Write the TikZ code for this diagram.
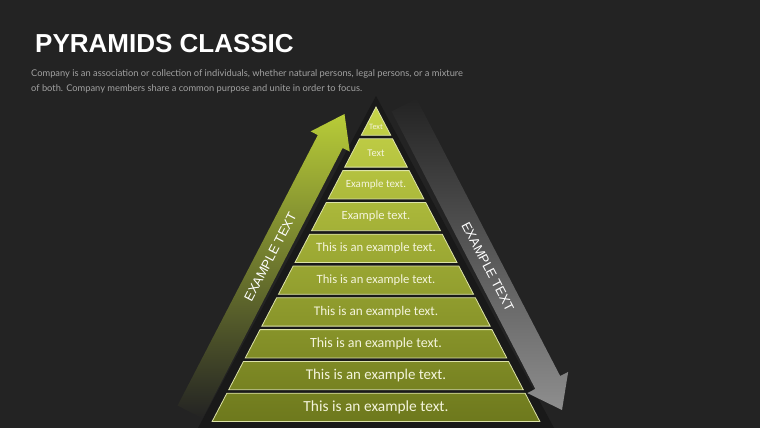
\documentclass[tikz,border=0pt]{standalone}
\usepackage{fontspec}
\setmainfont{Carlito}
\newfontfamily\headfont{Liberation Sans}
\newfontfamily\leadfont{Lato}
\usetikzlibrary{arrows.meta,positioning,calc}

\definecolor{bgdark}{HTML}{232323}
\definecolor{pyrshadow}{HTML}{191919}
\definecolor{pyrlight}{HTML}{C6D448}
\definecolor{pyrdark}{HTML}{6C771C}
\definecolor{pyredge}{HTML}{DDE3A8}
\definecolor{bandtext}{HTML}{F4F4DC}
\definecolor{upgreen}{HTML}{B8CC38}
\definecolor{downgray}{HTML}{8E8E8E}
\definecolor{leadgray}{HTML}{A2A2A2}

\begin{document}
\begin{tikzpicture}[x=1pt,y=-1pt,
    band/.style={draw=pyredge, line width=0.8pt},
    bandlabel/.style={text=bandtext, inner sep=0pt},
    arrowlabel/.style={text=white, inner sep=0pt,
      font=\headfont\fontsize{13}{13}\selectfont}]
  \fill[bgdark] (0,0) rectangle (760,428);
  \useasboundingbox (0,0) rectangle (760,428);

  % heading
  \node[anchor=base west, inner sep=0pt, text=white,
        font=\headfont\bfseries\fontsize{26}{26}\selectfont] (title) at (35,52.5) {PYRAMIDS CLASSIC};
  \node[anchor=base west, inner sep=0pt, text=leadgray,
        font=\leadfont\fontsize{9.3}{12}\selectfont] (lead1) at (31,76)
        {Company is an association or collection of individuals, whether natural persons, legal persons, or a mixture};
  \node[anchor=base west, inner sep=0pt, text=leadgray,
        font=\leadfont\fontsize{9.3}{12}\selectfont] (lead2) at (31,92)
        {of both. Company members share a common purpose and unite in order to focus.};

  % shadow under the pyramid
  \fill[pyrshadow] (376,96) -- (554,428) -- (198,428) -- cycle;

  % rising arrow
  \coordinate (upS) at (190,412);
  \coordinate (upT) at (344.5,114);
  \coordinate (upH) at ($(upT)!31pt!(upS)$);
  \shade[top color=upgreen, middle color=upgreen!60!bgdark, bottom color=bgdark]
    ($(upS)!14pt!90:(upT)$) -- ($(upH)!14pt!-90:(upS)$) -- ($(upH)!22pt!-90:(upS)$) -- (upT)
    -- ($(upH)!22pt!90:(upS)$) -- ($(upH)!14pt!90:(upS)$) -- ($(upS)!14pt!-90:(upT)$) -- cycle;
  \node[arrowlabel, rotate=62.5] (uplabel) at ($(upS)!0.52!(upT)$) {EXAMPLE TEXT};

  % falling arrow
  \coordinate (downS) at (404,105);
  \coordinate (downT) at (562,410);
  \coordinate (downH) at ($(downT)!31pt!(downS)$);
  \shade[top color=bgdark, middle color=downgray!65!bgdark, bottom color=downgray]
    ($(downS)!14pt!90:(downT)$) -- ($(downH)!14pt!-90:(downS)$) -- ($(downH)!23pt!-90:(downS)$) -- (downT)
    -- ($(downH)!23pt!90:(downS)$) -- ($(downH)!14pt!90:(downS)$) -- ($(downS)!14pt!-90:(downT)$) -- cycle;
  \node[arrowlabel, rotate=-62.5] (downlabel) at ($(downS)!0.53!(downT)$) {EXAMPLE TEXT};

  % pyramid bands
  \foreach \i/\txt/\fs in {1/Text/8.2, 2/Text/10.3, 3/Example text./11, 4/Example text./12.5,
      5/This is an example text./12.7, 6/This is an example text./12.6,
      7/This is an example text./13.2, 8/This is an example text./14,
      9/This is an example text./14.9, 10/This is an example text./15.4}{
    \pgfmathsetmacro\yt{107+(\i-1)*31.8}
    \pgfmathsetmacro\yb{\yt+28.3}
    \pgfmathsetmacro\wt{0.521*(\yt-107)}
    \pgfmathsetmacro\wb{0.521*(\yb-107)}
    \pgfmathsetmacro\ym{(\yt+\yb)/2+(\i==1)*6}
    \pgfmathtruncatemacro\ptop{100-(\i-1)*10}
    \pgfmathtruncatemacro\pbot{\ptop-8}
    \colorlet{bandtop}{pyrlight!\ptop!pyrdark}
    \colorlet{bandbot}{pyrlight!\pbot!pyrdark}
    \shade[band, top color=bandtop, bottom color=bandbot]
      ({376-\wt},\yt) -- ({376+\wt},\yt) -- ({376+\wb},\yb) -- ({376-\wb},\yb) -- cycle;
    \node[bandlabel, font=\fontsize{\fs}{\fs}\selectfont] (band\i) at (376,\ym) {\txt};
  }
\end{tikzpicture}
\end{document}
